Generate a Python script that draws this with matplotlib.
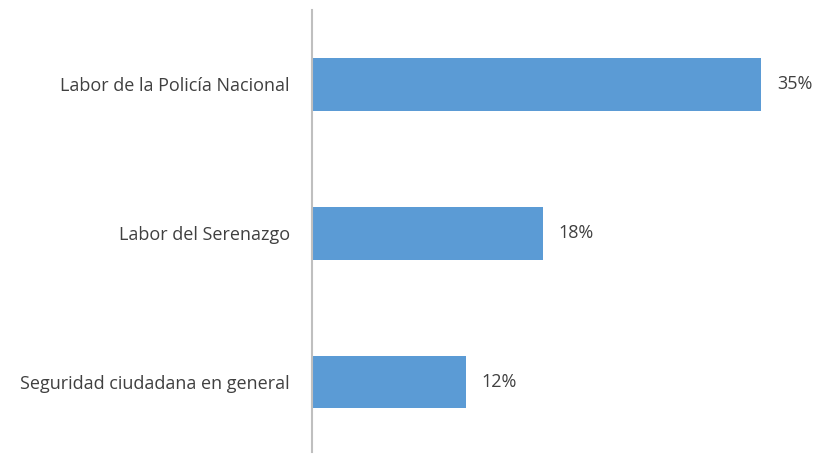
import matplotlib.pyplot as plt

# Data
categorias = ['Labor de la Policía Nacional', 'Labor del Serenazgo',
              'Seguridad ciudadana en general']
valores = [35, 18, 12]
etiquetas = ['35%', '18%', '12%']

plt.rcParams['font.family'] = ['Open Sans', 'DejaVu Sans']

fig = plt.figure(figsize=(8.18, 4.54), dpi=100)
ax = fig.add_axes([312 / 818, 2 / 454, 506 / 818, 442 / 454])

pos = range(len(categorias))
ax.barh(pos, valores, height=0.355, color='#5B9BD5')

for p, v, t in zip(pos, valores, etiquetas):
    ax.text(v + 1.2, p, t, va='center', ha='left',
            fontsize=13, color='#404040')

ax.set_ylim(2.47, -0.5)
ax.set_xlim(0, 39.4)
ax.set_yticks(list(pos))
ax.set_yticklabels(categorias, fontsize=13, color='#404040')
ax.tick_params(axis='y', length=0, pad=16)
ax.set_xticks([])

for s in ['top', 'right', 'bottom']:
    ax.spines[s].set_visible(False)
ax.spines['left'].set_color('#BFBFBF')
ax.spines['left'].set_linewidth(1.5)

fig.savefig('out.png', dpi=100)
